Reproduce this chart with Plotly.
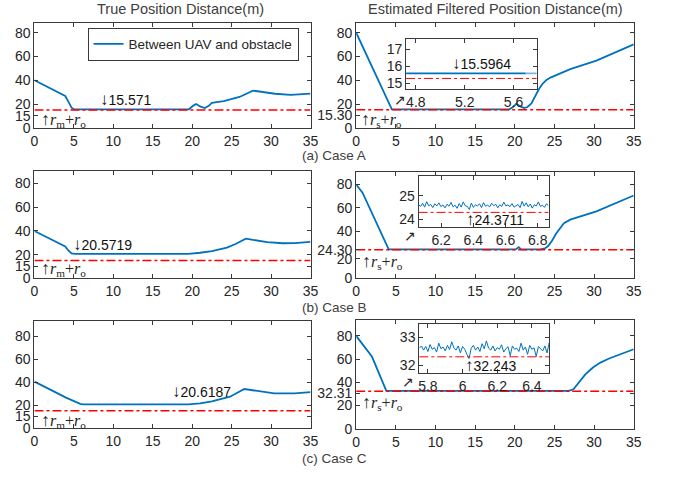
import numpy as np
import plotly.graph_objects as go

# ---------------- data ----------------
# Case A
a_true_x = [0, 3.9, 4.3, 4.7, 5.0, 19.6, 20.1, 20.5, 21.0, 21.6, 22.1, 22.5, 24, 26, 27.7, 29, 30.5, 32.5, 34, 35]
a_true_y = [40, 26.8, 22, 17, 15.6, 15.6, 18.5, 20, 18, 16.6, 18.5, 21, 22.5, 26, 31.3, 30, 28.7, 27.8, 28.2, 28.8]
a_est_x = [0, 4.5, 19.3, 19.8, 20.2, 20.7, 21.2, 21.6, 22.1, 22.6, 23.0, 23.5, 24.0, 24.5, 25.2, 26.0, 27.0, 30.3, 35]
a_est_y = [80, 15.6, 15.6, 17.5, 20.3, 18.0, 16.6, 17.5, 20.5, 27, 32, 37, 40.3, 42.3, 44.3, 46.8, 49.4, 56.5, 70.2]
a_safe_true = 15
a_safe_est = 15.30
a_min_true = "15.571"
a_min_est = "15.5964"
a_ins_x = [4.72, 5.70]
a_ins_y = [15.5964, 15.5964]
a_ins_tail_x = [5.70, 5.79]
a_ins_tail_y = [15.5964, 15.5964]

# Case B
b_true_x = [0, 3.9, 4.3, 4.7, 5.2, 19.5, 21, 22.5, 24.4, 25.5, 26.8, 28, 29.5, 31.5, 33, 35]
b_true_y = [40, 27, 23.5, 21, 20.6, 20.6, 21.6, 23, 26, 29, 33.5, 32, 30.5, 29.6, 29.7, 30.8]
b_est_x = [0, 0.8, 4.1, 20.1, 20.5, 20.8, 23.2, 23.8, 24.2, 24.7, 25.2, 25.7, 26.2, 27.0, 27.8, 30.3, 35]
b_est_y = [80, 73, 24.6, 24.6, 26.5, 24.6, 24.6, 25.5, 27.5, 32, 38, 43, 47, 50, 51.7, 57, 70.6]
b_safe_true = 15
b_safe_est = 24.30
b_min_true = "20.5719"
b_min_est = "24.3711"
b_ins_y = [24.62, 24.55, 24.68, 24.52, 24.75, 24.58, 24.63, 24.50, 24.66, 24.57,
           24.70, 24.54, 24.61, 24.49, 24.64, 24.56, 24.72, 24.53, 24.60, 24.47,
           24.67, 24.52, 24.74, 24.58, 24.55, 24.42, 24.69, 24.51, 24.62, 24.57,
           24.66, 24.50, 24.71, 24.56, 24.60, 24.53, 24.68, 24.58, 24.64, 24.49,
           24.62, 24.55, 24.73, 24.57, 24.61, 24.54, 24.67, 24.52, 24.58, 24.63,
           24.50, 24.76, 24.56, 24.70, 24.53, 24.65, 24.48, 24.62, 24.57, 24.74,
           24.55, 24.60, 24.51, 24.66, 24.58]
b_ins_t0, b_ins_t1 = 6.06, 6.867

# Case C
c_true_x = [0, 4, 5.8, 6.2, 19.5, 21, 22.5, 24.8, 26.6, 28.7, 30.4, 33, 35]
c_true_y = [40.5, 26.5, 21, 20.6, 20.6, 21.5, 23.2, 27.3, 34, 31.6, 30.2, 30.2, 31.3]
c_est_x = [0, 2, 3.8, 21.5, 21.8, 22.1, 26.8, 27.4, 27.8, 28.4, 28.9, 29.4, 29.9, 30.8, 31.9, 35]
c_est_y = [80, 62, 32.7, 32.7, 33.3, 32.7, 32.7, 34, 37.5, 42, 46.8, 50, 53, 57, 60.5, 68.5]
c_safe_true = 15
c_safe_est = 32.31
c_min_true = "20.6187"
c_min_est = "32.243"
c_ins_y = [32.62, 32.70, 32.55, 32.68, 32.50, 32.75, 32.58, 32.64, 32.48, 32.80,
           32.60, 32.66, 32.52, 32.72, 32.57, 32.85, 32.62, 32.55, 32.70, 32.45,
           32.68, 32.58, 32.40, 32.25, 32.62, 32.72, 32.55, 32.66, 32.50, 32.78,
           32.60, 32.88, 32.62, 32.55, 32.70, 32.52, 32.64, 32.58, 32.74, 32.48,
           32.60, 32.67, 32.35, 32.70, 32.58, 32.62, 32.50, 32.80, 32.55, 32.66,
           32.40, 32.72, 32.58, 32.63, 32.32, 32.68, 32.60, 32.52, 32.70, 32.45, 32.82]
c_ins_t0, c_ins_t1 = 5.75, 6.5

# tick labels
left_tickvals = [0, 10, 20, 40, 60, 80]
left_ticktext = ["0", "15", "20", "40", "60", "80"]
a_right_tickvals = [0, 10.5, 20, 40, 60, 80]
a_right_ticktext = ["0", "15.30", "20", "40", "60", "80"]
b_right_tickvals = [0, 16.5, 24.3, 40, 60, 80]
b_right_ticktext = ["0", "20", "24.30", "40", "60", "80"]
c_right_tickvals = [0, 20, 30.5, 40, 60, 80]
c_right_ticktext = ["0", "20", "32.31", "40", "60", "80"]

legend_name = "Between UAV and obstacle"
title_left = "True Position Distance(m)"
title_right = "Estimated Filtered Position Distance(m)"
captions = ["(a) Case A", "(b) Case B", "(c) Case C"]

# ---------------- styling ----------------
BLUE = "#0072BD"
RED = "#FF0000"
AX = "#3a3a3a"
TXT = "#262626"
FONT = "Liberation Sans, Arial, sans-serif"
SERIF = "Liberation Serif, DejaVu Serif, serif"
W, H = 681, 484

def px_x(a, b):
    return [a / W, b / W]

def px_y(top, bottom):
    return [1 - bottom / H, 1 - top / H]

fig = go.Figure()

def axis_common(**kw):
    d = dict(showline=True, linecolor=AX, linewidth=1, mirror="ticks", ticks="inside",
             ticklen=4, tickcolor=AX, showgrid=False, zeroline=False,
             tickfont=dict(family=FONT, size=14, color=TXT), fixedrange=True)
    d.update(kw)
    return d

rows = [
    dict(top=23, bottom=130, yr=[0, 88.5], tx=a_true_x, ty=a_true_y, ex=a_est_x, ey=a_est_y,
         st=a_safe_true, se=a_safe_est, rtv=a_right_tickvals, rtt=a_right_ticktext,
         rtop=23, rbottom=130),
    dict(top=174, bottom=283, yr=[0, 90.5], tx=b_true_x, ty=b_true_y, ex=b_est_x, ey=b_est_y,
         st=b_safe_true, se=b_safe_est, rtv=b_right_tickvals, rtt=b_right_ticktext,
         rtop=175, rbottom=283),
    dict(top=326, bottom=435, yr=[0, 94], tx=c_true_x, ty=c_true_y, ex=c_est_x, ey=c_est_y,
         st=c_safe_true, se=c_safe_est, rtv=c_right_tickvals, rtt=c_right_ticktext,
         rtop=325, rbottom=436),
]

layout = {}
for i, r in enumerate(rows):
    nl = 3 * i + 1
    nr = 3 * i + 2
    sl = "" if nl == 1 else str(nl)
    sr = str(nr)
    layout["xaxis" + sl] = axis_common(domain=px_x(31, 312), range=[0, 35], dtick=5,
                                       anchor="y" + sl)
    layout["yaxis" + sl] = axis_common(domain=px_y(r["top"], r["bottom"]), range=r["yr"],
                                       tickvals=left_tickvals, ticktext=left_ticktext,
                                       anchor="x" + sl)
    layout["xaxis" + sr] = axis_common(domain=px_x(358.5, 641), range=[0, 35], dtick=5,
                                       anchor="y" + sr)
    layout["yaxis" + sr] = axis_common(domain=px_y(r["rtop"], r["rbottom"]), range=r["yr"],
                                       tickvals=r["rtv"], ticktext=r["rtt"],
                                       anchor="x" + sr)
    fig.add_trace(go.Scatter(x=r["tx"], y=r["ty"], mode="lines", line=dict(color=BLUE, width=1.8),
                             name=legend_name, showlegend=(i == 0),
                             xaxis="x" + sl, yaxis="y" + sl))
    fig.add_trace(go.Scatter(x=[0, 35], y=[r["st"], r["st"]], mode="lines",
                             line=dict(color=RED, width=1.5, dash="dashdot"), showlegend=False,
                             xaxis="x" + sl, yaxis="y" + sl))
    fig.add_trace(go.Scatter(x=r["ex"], y=r["ey"], mode="lines", line=dict(color=BLUE, width=1.8),
                             showlegend=False, xaxis="x" + sr, yaxis="y" + sr))
    fig.add_trace(go.Scatter(x=[0, 35], y=[r["se"], r["se"]], mode="lines",
                             line=dict(color=RED, width=1.5, dash="dashdot"), showlegend=False,
                             xaxis="x" + sr, yaxis="y" + sr))

# insets
ins = [
    dict(n=3, xd=px_x(409.3, 542.3), yd=px_y(40, 91), xr=[4.72, 5.79], yr=[14.65, 17.6],
         xt=[4.8, 5.2, 5.6], xtt=["4.8", "5.2", "5.6"], yt=[15, 16, 17]),
    dict(n=6, xd=px_x(422, 554.3), yd=px_y(179.3, 231), xr=[b_ins_t0, b_ins_t1], yr=[23.68, 25.81],
         xt=[6.2, 6.4, 6.6, 6.8], xtt=["6.2", "6.4", "6.6", "6.8"], yt=[24, 25]),
    dict(n=9, xd=px_x(422.7, 555), yd=px_y(329, 379.3), xr=[c_ins_t0, c_ins_t1], yr=[31.73, 33.5],
         xt=[5.8, 6.0, 6.2, 6.4], xtt=["5.8", "6", "6.2", "6.4"], yt=[32, 33]),
]
for k in ins:
    s = str(k["n"])
    layout["xaxis" + s] = axis_common(domain=k["xd"], range=k["xr"], tickvals=k["xt"],
                                      ticktext=k["xtt"], anchor="y" + s)
    layout["yaxis" + s] = axis_common(domain=k["yd"], range=k["yr"], tickvals=k["yt"],
                                      anchor="x" + s)

fig.add_trace(go.Scatter(x=a_ins_x, y=a_ins_y, mode="lines", line=dict(color=BLUE, width=1.8),
                         showlegend=False, xaxis="x3", yaxis="y3"))
fig.add_trace(go.Scatter(x=a_ins_tail_x, y=a_ins_tail_y, mode="lines",
                         line=dict(color="#7fb2dc", width=1.8), showlegend=False, xaxis="x3", yaxis="y3"))
fig.add_trace(go.Scatter(x=[4.72, 5.79], y=[a_safe_est, a_safe_est], mode="lines",
                         line=dict(color=RED, width=1, dash="dashdot"), showlegend=False,
                         xaxis="x3", yaxis="y3"))
b_ins_x = np.linspace(b_ins_t0, b_ins_t1, len(b_ins_y))
fig.add_trace(go.Scatter(x=b_ins_x, y=b_ins_y, mode="lines", line=dict(color=BLUE, width=1),
                         showlegend=False, xaxis="x6", yaxis="y6"))
fig.add_trace(go.Scatter(x=[b_ins_t0, b_ins_t1], y=[b_safe_est, b_safe_est], mode="lines",
                         line=dict(color=RED, width=1, dash="dashdot"), showlegend=False,
                         xaxis="x6", yaxis="y6"))
c_ins_x = np.linspace(c_ins_t0, c_ins_t1, len(c_ins_y))
fig.add_trace(go.Scatter(x=c_ins_x, y=c_ins_y, mode="lines", line=dict(color=BLUE, width=1),
                         showlegend=False, xaxis="x9", yaxis="y9"))
fig.add_trace(go.Scatter(x=[c_ins_t0, c_ins_t1], y=[c_safe_est, c_safe_est], mode="lines",
                         line=dict(color=RED, width=1, dash="dashdot"), showlegend=False,
                         xaxis="x9", yaxis="y9"))

# ---------------- annotations ----------------
ann = []
def txt(x, y, t, xr, yr, size=14, family=FONT, xanchor="left", color="#111111"):
    ann.append(dict(x=x, y=y, xref=xr, yref=yr, text=t, showarrow=False, xanchor=xanchor,
                    yanchor="middle", font=dict(family=family, size=size, color=color)))

DOWN = "<span style='font-size:17px'>↓</span>"
UP = "<span style='font-size:17px'>↑</span>"

# minima labels
txt(8.1, 23.5, DOWN + a_min_true, "x", "y")
txt(4.6, 28.5, DOWN + b_min_true, "x4", "y4")
txt(17.2, 32.0, DOWN + c_min_true, "x7", "y7")
txt(5.08, 16.15, DOWN + a_min_est, "x3", "y3")
txt(6.34, 24.0, UP + b_min_est, "x6", "y6")
txt(6.00, 32.0, UP + c_min_est, "x9", "y9")

# safety radius labels
rm = "<span style='font-size:18px'>↑</span><i>r</i><sub>m</sub>+<i>r</i><sub>o</sub>"
rs = "<span style='font-size:18px'>↑</span><i>r</i><sub>s</sub>+<i>r</i><sub>o</sub>"
txt(0.6, 6.8, rm, "x", "y", size=16, family=SERIF, color=TXT)
txt(0.6, 8.6, rm, "x4", "y4", size=16, family=SERIF, color=TXT)
txt(0.6, 6.3, rm, "x7", "y7", size=16, family=SERIF, color=TXT)
txt(0.4, 6.8, rs, "x2", "y2", size=16, family=SERIF, color=TXT)
txt(0.5, 14.1, rs, "x5", "y5", size=16, family=SERIF, color=TXT)
txt(0.5, 22.5, rs, "x8", "y8", size=16, family=SERIF, color=TXT)

# small arrows towards the insets
txt(5.5, 23.5, "↗", "x2", "y2", size=14, xanchor="center", color=TXT)
txt(6.8, 35.8, "↗", "x5", "y5", size=14, xanchor="center", color=TXT)
txt(6.5, 40.4, "↗", "x8", "y8", size=14, xanchor="center", color=TXT)

# titles and captions
for x, t in [(180 / W, title_left), (500.8 / W, title_right)]:
    ann.append(dict(x=x, y=1 - 9 / H, xref="paper", yref="paper", text=t, showarrow=False,
                    xanchor="center", yanchor="middle",
                    font=dict(family=FONT, size=14.5, color="#404040")))
for ypx, t in zip([158, 313, 466], captions):
    ann.append(dict(x=336 / W, y=1 - ypx / H, xref="paper", yref="paper", text=t, showarrow=False,
                    xanchor="center", yanchor="middle",
                    font=dict(family=FONT, size=13.5, color="#404040")))

fig.update_layout(
    width=W, height=H, margin=dict(l=0, r=0, t=0, b=0),
    paper_bgcolor="white", plot_bgcolor="white",
    font=dict(family=FONT, size=14, color=TXT),
    showlegend=True,
    legend=dict(x=85 / W, y=1 - 28 / H, xanchor="left", yanchor="top",
                bgcolor="white", bordercolor=AX, borderwidth=1,
                font=dict(family=FONT, size=13.5, color=TXT)),
    annotations=ann,
    **layout,
)

fig.write_html("out.html")
